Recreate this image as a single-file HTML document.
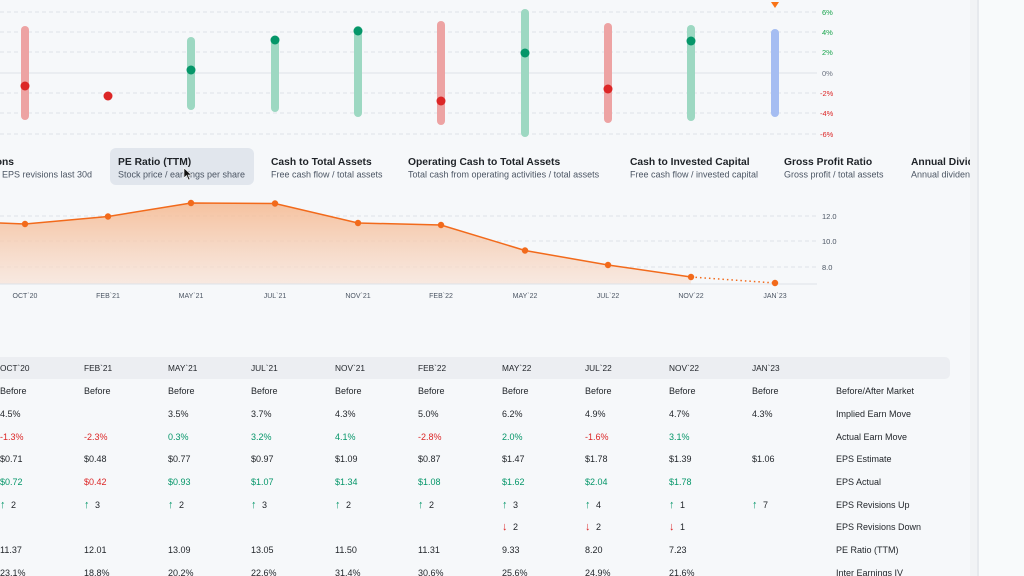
<!DOCTYPE html>
<html><head><meta charset="utf-8"><style>
html,body{margin:0;padding:0;width:1024px;height:576px;overflow:hidden;background:#f6f8fa;}
svg{display:block;font-family:"Liberation Sans",sans-serif;}
</style></head><body>
<svg width="1024" height="576" viewBox="0 0 1024 576" xmlns="http://www.w3.org/2000/svg">
<defs>
<linearGradient id="ag" x1="0" y1="0" x2="0" y2="1">
<stop offset="0" stop-color="#f5b88f" stop-opacity="0.85"/>
<stop offset="1" stop-color="#f8e2d6" stop-opacity="0.7"/>
</linearGradient>
</defs>
<rect x="0" y="0" width="1024" height="576" fill="#f6f8fa"/>

<g stroke="#dde2e8" stroke-width="1" stroke-dasharray="4,3">
<line x1="0" y1="12" x2="817" y2="12"/><line x1="0" y1="32" x2="817" y2="32"/>
<line x1="0" y1="52" x2="817" y2="52"/><line x1="0" y1="93" x2="817" y2="93"/>
<line x1="0" y1="113" x2="817" y2="113"/><line x1="0" y1="134" x2="817" y2="134"/>
</g>
<line x1="0" y1="73" x2="817" y2="73" stroke="#e2e6ec" stroke-width="1.2"/>
<g font-size="7.5">
<text x="822" y="15" fill="#16a34a">6%</text><text x="822" y="35" fill="#16a34a">4%</text>
<text x="822" y="55" fill="#16a34a">2%</text><text x="822" y="76" fill="#6b7280">0%</text>
<text x="820" y="96" fill="#dc2626">-2%</text><text x="820" y="116" fill="#dc2626">-4%</text>
<text x="820" y="137" fill="#dc2626">-6%</text>
</g>
<g stroke-linecap="round" stroke-width="8">
<line x1="25" y1="30" x2="25" y2="116" stroke="#eda3a3"/>
<line x1="191" y1="41" x2="191" y2="106" stroke="#9dd8c2"/>
<line x1="275" y1="41" x2="275" y2="108" stroke="#9dd8c2"/>
<line x1="358" y1="30" x2="358" y2="113" stroke="#9dd8c2"/>
<line x1="441" y1="25" x2="441" y2="121" stroke="#eda3a3"/>
<line x1="525" y1="13" x2="525" y2="133" stroke="#9dd8c2"/>
<line x1="608" y1="27" x2="608" y2="119" stroke="#eda3a3"/>
<line x1="691" y1="29" x2="691" y2="117" stroke="#9dd8c2"/>
<line x1="775" y1="33" x2="775" y2="113" stroke="#a5bdf2"/>
</g>
<g>
<circle cx="25" cy="86" r="4.5" fill="#dc2626"/>
<circle cx="108" cy="96" r="4.5" fill="#dc2626"/>
<circle cx="191" cy="70" r="4.5" fill="#059669"/>
<circle cx="275" cy="40" r="4.5" fill="#059669"/>
<circle cx="358" cy="31" r="4.5" fill="#059669"/>
<circle cx="441" cy="101" r="4.5" fill="#dc2626"/>
<circle cx="525" cy="53" r="4.5" fill="#059669"/>
<circle cx="608" cy="89" r="4.5" fill="#dc2626"/>
<circle cx="691" cy="41" r="4.5" fill="#059669"/>
</g>
<polygon points="771,2 779,2 775,8" fill="#f97316"/>

<rect x="110" y="148" width="144" height="37" rx="6" fill="#e1e6ed"/>
<g font-size="10.3" fill="#1f2328" font-weight="bold">
<text x="14" y="165" text-anchor="end">EPS Revisions</text>
<text x="118" y="165">PE Ratio (TTM)</text>
<text x="271" y="165">Cash to Total Assets</text>
<text x="408" y="165">Operating Cash to Total Assets</text>
<text x="630" y="165">Cash to Invested Capital</text>
<text x="784" y="165">Gross Profit Ratio</text>
<text x="911" y="165">Annual Dividend</text>
</g>
<g font-size="9" fill="#4b5563">
<text x="92" y="177.5" text-anchor="end">Net EPS revisions last 30d</text>
<text x="118" y="177.5">Stock price / earnings per share</text>
<text x="271" y="177.5">Free cash flow / total assets</text>
<text x="408" y="177.5">Total cash from operating activities / total assets</text>
<text x="630" y="177.5">Free cash flow / invested capital</text>
<text x="784" y="177.5">Gross profit / total assets</text>
<text x="911" y="177.5">Annual dividend</text>
</g>
<path d="M184,168 L184,178 L186.5,175.5 L188.5,180 L190,179.3 L188,175 L191.5,175 Z" fill="#111" stroke="#fff" stroke-width="0.6"/>

<g stroke="#dde2e8" stroke-dasharray="4,3">
<line x1="0" y1="216" x2="817" y2="216"/><line x1="0" y1="241" x2="817" y2="241"/><line x1="0" y1="267" x2="817" y2="267"/>
</g>
<polygon fill="url(#ag)" points="0,223 25,224 108,216.5 191,203 275,203.5 358,223 441,225 525,250.5 608,265 691,277 691,284 0,284"/>
<line x1="0" y1="284" x2="817" y2="284" stroke="#dde2e8"/>
<polyline fill="none" stroke="#f26a1b" stroke-width="1.5" points="0,223 25,224 108,216.5 191,203 275,203.5 358,223 441,225 525,250.5 608,265 691,277"/>
<line x1="691" y1="277" x2="775" y2="283" stroke="#f26a1b" stroke-width="1.5" stroke-dasharray="1.5,3"/>
<g fill="#f26a1b">
<circle cx="25" cy="224" r="3.2"/><circle cx="108" cy="216.5" r="3.2"/><circle cx="191" cy="203" r="3.2"/>
<circle cx="275" cy="203.5" r="3.2"/><circle cx="358" cy="223" r="3.2"/><circle cx="441" cy="225" r="3.2"/>
<circle cx="525" cy="250.5" r="3.2"/><circle cx="608" cy="265" r="3.2"/><circle cx="691" cy="277" r="3.2"/>
<circle cx="775" cy="283" r="3.2"/>
</g>
<g font-size="7.5" fill="#4b5563">
<text x="822" y="219">12.0</text><text x="822" y="244">10.0</text><text x="822" y="270">8.0</text>
</g>
<g font-size="7" fill="#4b5563" text-anchor="middle">
<text x="25" y="298">OCT`20</text><text x="108" y="298">FEB`21</text><text x="191" y="298">MAY`21</text>
<text x="275" y="298">JUL`21</text><text x="358" y="298">NOV`21</text><text x="441" y="298">FEB`22</text>
<text x="525" y="298">MAY`22</text><text x="608" y="298">JUL`22</text><text x="691" y="298">NOV`22</text>
<text x="775" y="298">JAN`23</text>
</g>

<rect x="-10" y="357" width="960" height="22" rx="5" fill="#eceef2"/>
<g font-size="8.3" fill="#1f2328">
<text x="0" y="371">OCT`20</text><text x="84" y="371">FEB`21</text><text x="168" y="371">MAY`21</text>
<text x="251" y="371">JUL`21</text><text x="335" y="371">NOV`21</text><text x="418" y="371">FEB`22</text>
<text x="502" y="371">MAY`22</text><text x="585" y="371">JUL`22</text><text x="669" y="371">NOV`22</text>
<text x="752" y="371">JAN`23</text>
</g>
<g font-size="9" fill="#1f2328">
<text x="0" y="394">Before</text><text x="84" y="394">Before</text><text x="168" y="394">Before</text><text x="251" y="394">Before</text><text x="335" y="394">Before</text><text x="418" y="394">Before</text><text x="502" y="394">Before</text><text x="585" y="394">Before</text><text x="669" y="394">Before</text><text x="752" y="394">Before</text><text x="836" y="394">Before/After Market</text>
<text x="0" y="417">4.5%</text><text x="168" y="417">3.5%</text><text x="251" y="417">3.7%</text><text x="335" y="417">4.3%</text><text x="418" y="417">5.0%</text><text x="502" y="417">6.2%</text><text x="585" y="417">4.9%</text><text x="669" y="417">4.7%</text><text x="752" y="417">4.3%</text><text x="836" y="417">Implied Earn Move</text>
<text x="836" y="440">Actual Earn Move</text>
<text x="0" y="462">$0.71</text><text x="84" y="462">$0.48</text><text x="168" y="462">$0.77</text><text x="251" y="462">$0.97</text><text x="335" y="462">$1.09</text><text x="418" y="462">$0.87</text><text x="502" y="462">$1.47</text><text x="585" y="462">$1.78</text><text x="669" y="462">$1.39</text><text x="752" y="462">$1.06</text><text x="836" y="462">EPS Estimate</text>
<text x="836" y="485">EPS Actual</text>
<text x="11" y="508">2</text><text x="95" y="508">3</text><text x="179" y="508">2</text><text x="262" y="508">3</text><text x="346" y="508">2</text><text x="429" y="508">2</text><text x="513" y="508">3</text><text x="596" y="508">4</text><text x="680" y="508">1</text><text x="763" y="508">7</text><text x="836" y="508">EPS Revisions Up</text>
<text x="513" y="530">2</text><text x="596" y="530">2</text><text x="680" y="530">1</text><text x="836" y="530">EPS Revisions Down</text>
<text x="0" y="553">11.37</text><text x="84" y="553">12.01</text><text x="168" y="553">13.09</text><text x="251" y="553">13.05</text><text x="335" y="553">11.50</text><text x="418" y="553">11.31</text><text x="502" y="553">9.33</text><text x="585" y="553">8.20</text><text x="669" y="553">7.23</text><text x="836" y="553">PE Ratio (TTM)</text>
<text x="0" y="576">23.1%</text><text x="84" y="576">18.8%</text><text x="168" y="576">20.2%</text><text x="251" y="576">22.6%</text><text x="335" y="576">31.4%</text><text x="418" y="576">30.6%</text><text x="502" y="576">25.6%</text><text x="585" y="576">24.9%</text><text x="669" y="576">21.6%</text><text x="836" y="576">Inter Earnings IV</text>
</g>
<g font-size="9" fill="#dc2626">
<text x="0" y="440">-1.3%</text><text x="84" y="440">-2.3%</text><text x="418" y="440">-2.8%</text><text x="585" y="440">-1.6%</text>
<text x="84" y="485">$0.42</text>
</g>
<g font-size="11" font-weight="bold" fill="#dc2626">
<text x="502" y="530">↓</text><text x="585" y="530">↓</text><text x="669" y="530">↓</text>
</g>
<g font-size="9" fill="#059669">
<text x="168" y="440">0.3%</text><text x="251" y="440">3.2%</text><text x="335" y="440">4.1%</text><text x="502" y="440">2.0%</text><text x="669" y="440">3.1%</text>
<text x="0" y="485">$0.72</text><text x="168" y="485">$0.93</text><text x="251" y="485">$1.07</text><text x="335" y="485">$1.34</text><text x="418" y="485">$1.08</text><text x="502" y="485">$1.62</text><text x="585" y="485">$2.04</text><text x="669" y="485">$1.78</text>
</g>
<g font-size="11" font-weight="bold" fill="#059669">
<text x="0" y="508">↑</text><text x="84" y="508">↑</text><text x="168" y="508">↑</text><text x="251" y="508">↑</text><text x="335" y="508">↑</text><text x="418" y="508">↑</text><text x="502" y="508">↑</text><text x="585" y="508">↑</text><text x="669" y="508">↑</text><text x="752" y="508">↑</text>
</g>

<rect x="970" y="0" width="7" height="576" fill="#f1f3f5"/>
<rect x="977" y="0" width="2" height="576" fill="#e6e9ed"/>
<rect x="979" y="0" width="45" height="576" fill="#f8fafb"/>
</svg>
</body></html>
